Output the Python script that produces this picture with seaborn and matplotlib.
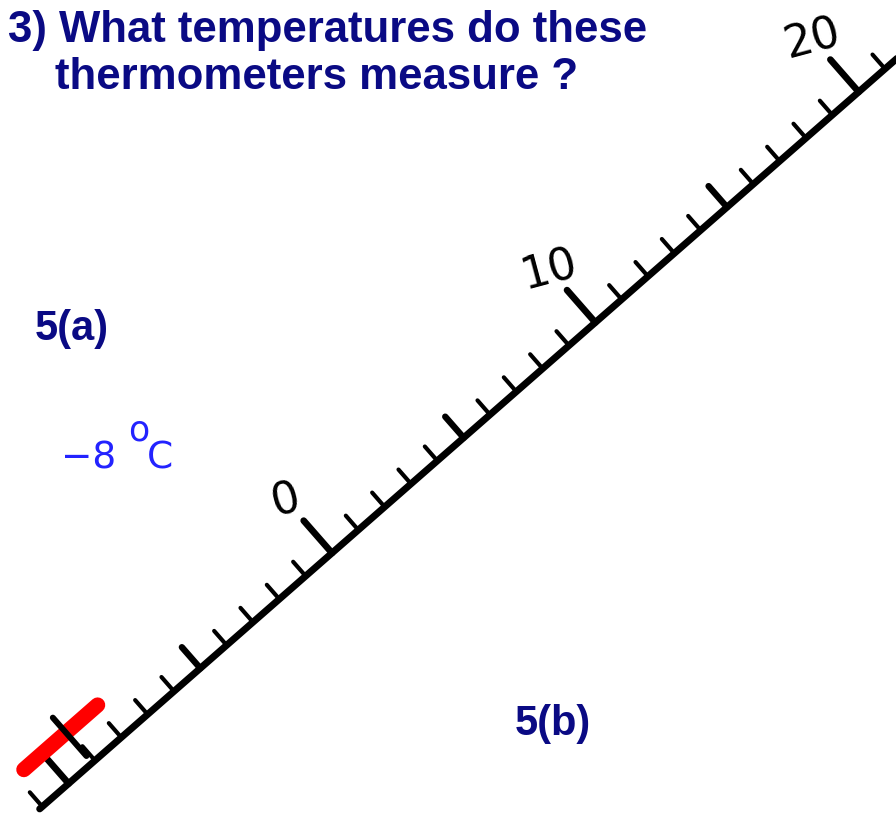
import numpy as np
import pandas as pd
import seaborn as sns
import matplotlib.pyplot as plt
from matplotlib.transforms import Affine2D

# Thermometer scale (degrees C)
tick_values = np.arange(-11, 22)
label_values = [0, 10, 20]
scale_range = [-11.1, 22.5]
mercury = [-10.7, -7.9]      # red column
reading_mark = -9.1          # black marker across the red column

title_lines = ["3) What temperatures do these", "thermometers measure ?"]
part_a = "5(a)"
part_b = "5(b)"
answer_a = ["\u22128", "o", "C"]

navy = "#0a0a84"
blue = "#2323ff"

sns.set_style("white")
plt.rcParams['font.family'] = ['Liberation Sans', 'DejaVu Sans']

fig = plt.figure(figsize=(8.96, 8.13), dpi=100)
ax = fig.add_axes([0, 0, 1, 1])

# scale coords (value, offset in px) -> pixel coords of the picture
angle = np.deg2rad(41.2)
unit = 35.0
tr = Affine2D.from_values(unit * np.cos(angle), -unit * np.sin(angle),
                          -np.sin(angle), -np.cos(angle),
                          332, 553) + ax.transData

# tick segments in long form
kind = np.where(tick_values % 10 == 0, 'major',
                np.where(tick_values % 5 == 0, 'mid', 'minor'))
tick_len = {'minor': 19, 'mid': 28, 'major': 43}
ticks = pd.DataFrame({
    'value': np.repeat(tick_values, 2),
    'offset': np.ravel([[0, tick_len[k]] for k in kind]),
    'kind': np.repeat(kind, 2),
})

sns.lineplot(data=ticks, x='value', y='offset', units='value', estimator=None,
             size='kind', sizes={'minor': 3.0, 'mid': 4.6, 'major': 4.8},
             color='black', sort=False, legend=False, ax=ax, transform=tr,
             solid_capstyle='round')

# main line
ax.plot(scale_range, [0, 0], color='black', lw=5.0, transform=tr,
        solid_capstyle='round', zorder=3)

# red column and black marker
ax.plot(mercury, [40, 40], color='#ff0000', lw=11, transform=tr,
        solid_capstyle='round', zorder=4)
ax.plot([reading_mark, reading_mark], [9, 60], color='black', lw=4.3,
        transform=tr, solid_capstyle='round', zorder=5)

for v in label_values:
    ax.text(v, 70, str(v), transform=tr, rotation=15, ha='center', va='center',
            fontsize=32, family='DejaVu Sans', color='black')

# texts
ax.text(8, 42, title_lines[0], fontsize=31.5, fontweight='bold', color=navy,
        va='baseline')
ax.text(55, 89, title_lines[1], fontsize=31.5, fontweight='bold', color=navy,
        va='baseline')
ax.text(35, 340, part_a, fontsize=30, fontweight='bold', color=navy, va='baseline')
ax.text(515, 735, part_b, fontsize=30, fontweight='bold', color=navy, va='baseline')

ax.text(61, 468, answer_a[0], fontsize=27, family='DejaVu Sans', color=blue, va='baseline')
ax.text(128, 440, answer_a[1], fontsize=25, family='DejaVu Sans', color=blue, va='baseline')
ax.text(147, 468, answer_a[2], fontsize=27, family='DejaVu Sans', color=blue, va='baseline')

ax.set_xlim(0, 896)
ax.set_ylim(813, 0)
ax.axis('off')

fig.savefig('out.png', dpi=100)
